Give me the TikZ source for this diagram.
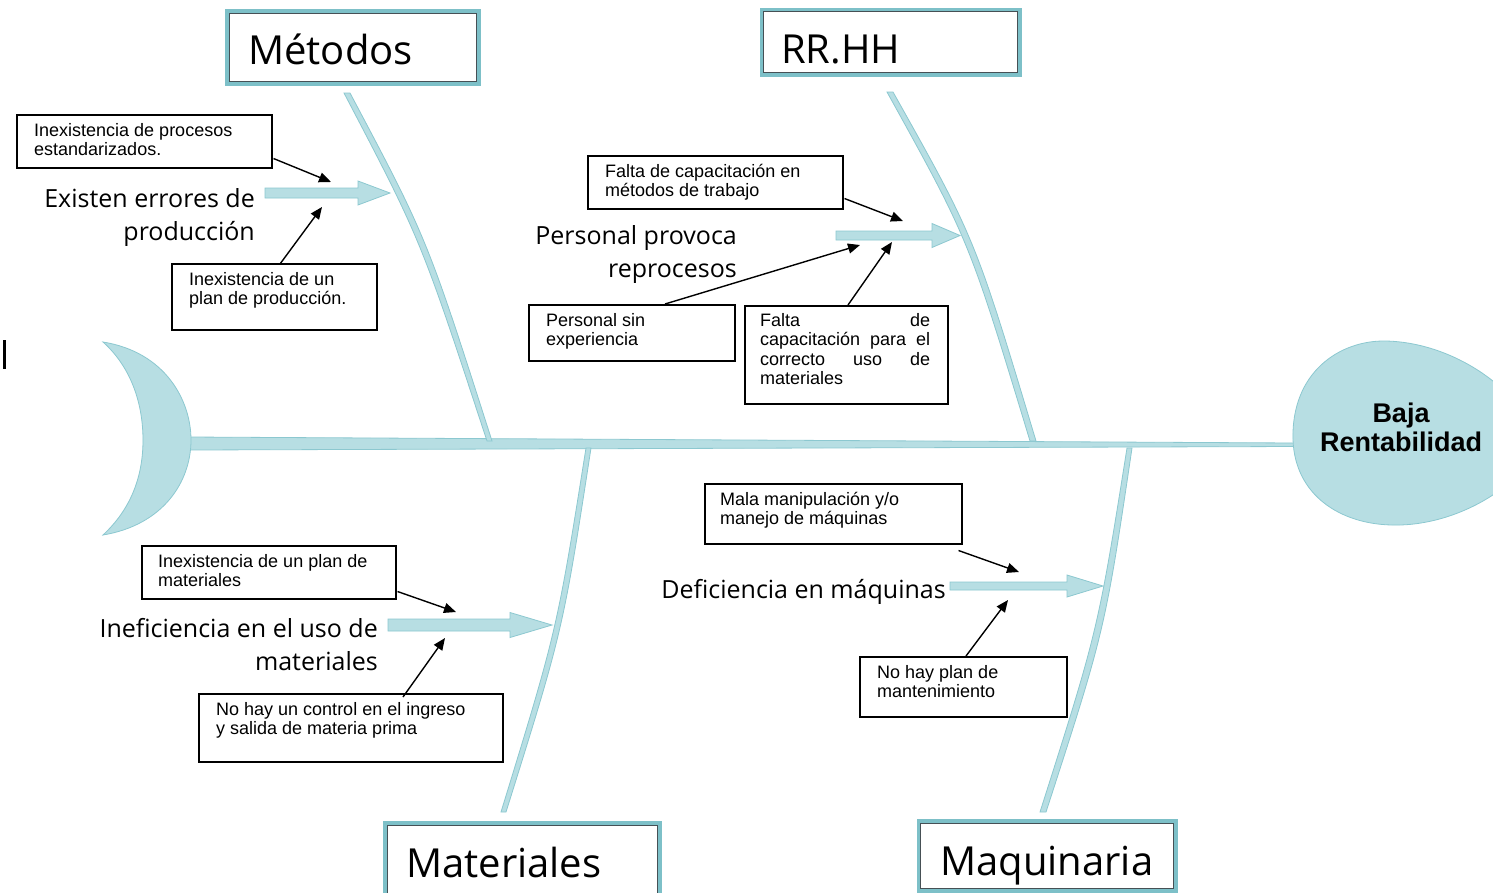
\documentclass[tikz,border=0pt]{standalone}
\usepackage{fontspec}
\setmainfont{Liberation Sans}
\newfontfamily\comicfont{Open Sans}
\usetikzlibrary{arrows.meta,calc}
\definecolor{fishfill}{RGB}{183,222,227}
\definecolor{fishline}{RGB}{140,200,208}
\definecolor{catteal}{RGB}{125,192,200}
\definecolor{catdark}{RGB}{70,80,85}
\newcommand\barrow[6]{%
  \path[fish] (#1,#4-#5) -- (#2,#4-#5) -- (#2,#4-#6) -- (#3,#4) -- (#2,#4+#6) -- (#2,#4+#5) -- (#1,#4+#5) -- cycle;}
\newcommand\causebox[7]{%
  \node[cbox,minimum width=#4pt,minimum height=#5pt] (#1) at (#2,#3) {};
  \node[ctext] (#1t) at ($(#1.north west)+(#6,0)$) {\rule{0pt}{22pt}#7};}
\begin{document}
\begin{tikzpicture}[x=1pt,y=-1pt,
  fish/.style={fill=fishfill,draw=fishline,line width=0.8pt},
  cbox/.style={draw=black,line width=1.5pt,fill=white,anchor=north west,inner sep=0pt},
  ctext/.style={anchor=north west,inner sep=0pt,align=left,font=\fontsize{18}{19.5}\selectfont},
  catbox/.style={draw=catdark,line width=1.3pt,fill=white,anchor=north west,inner sep=0pt},
  cattext/.style={anchor=base west,inner sep=0pt,font=\comicfont\fontsize{40}{44}\selectfont},
  lbl/.style={anchor=north east,inner sep=0pt,align=right,font=\comicfont\fontsize{25}{33}\selectfont},
  carrow/.style={draw=black,line width=1.4pt,-{Triangle[length=12pt,width=10pt]}}]
\fill[white] (0,0) rectangle (1493,892);
\useasboundingbox (0,0) rectangle (1493,892);
\clip (0,0) rectangle (1493,892);

% spine
\path[fish] (188,437) -- (1295,443) -- (1295,446.5) -- (188,450) -- cycle;
% bones
\path[fish] (344,93) .. controls (421,240) .. (487,441) -- (492,441) .. controls (427,238) .. (350,93) -- cycle;
\path[fish] (887,92) .. controls (969,240) .. (1030,441) -- (1036,441) .. controls (975,238) .. (893,92) -- cycle;
\path[fish] (586,448) .. controls (557,630) .. (501,812) -- (506,812) .. controls (563,630) .. (591,448) -- cycle;
\path[fish] (1127,448) .. controls (1098,630) .. (1040,812) -- (1046,812) .. controls (1105,630) .. (1132,448) -- cycle;
% tail
\path[fish] (103,342) .. controls (165,352) and (191,400) .. (191,440) .. controls (191,482) and (163,525) .. (103,535)
  .. controls (132,508) and (143,475) .. (143,440) .. controls (143,405) and (132,368) .. (103,342) -- cycle;
% head
\path[fish] (1293,440) .. controls (1291,372) and (1340,340) .. (1386,341) .. controls (1430,342) and (1472,362) .. (1500,387)
  -- (1500,490) .. controls (1470,512) and (1430,526) .. (1392,525) .. controls (1340,524) and (1295,495) .. (1293,440) -- cycle;
\node[font=\bfseries\fontsize{27}{29}\selectfont,align=center,inner sep=0pt] (headtext) at (1401,427) {Baja\\Rentabilidad};

% block arrows
\barrow{265}{358}{390}{193}{5}{12}
\barrow{836}{932}{960}{235.5}{4.5}{12}
\barrow{388}{510}{552}{625}{6}{12.5}
\barrow{950}{1067}{1103}{586}{4}{11}

% category boxes
\fill[catteal] (225,9) rectangle (481,86);
\node[catbox,minimum width=247pt,minimum height=68pt] (metodos) at (229,13) {};
\node[cattext] (metodost) at (248,64) {Métodos};
\fill[catteal] (760,8) rectangle (1022,77);
\node[catbox,minimum width=254pt,minimum height=61pt] (rrhh) at (763,11) {};
\node[cattext] (rrhht) at (781,63) {RR.HH};
\fill[catteal] (383,821) rectangle (662,905);
\node[catbox,minimum width=270pt,minimum height=75pt] (materiales) at (387,825) {};
\node[cattext] (materialest) at (406,877) {Materiales};
\fill[catteal] (917,819) rectangle (1178,893);
\node[catbox,minimum width=253pt,minimum height=65pt] (maquinaria) at (920,823) {};
\node[cattext] (maquinariat) at (940,875) {Maquinaria};

% labels
\node[lbl] (l1) at (255,183) {\rule{0pt}{24pt}Existen errores de\\producción};
\node[lbl] (l2) at (737,220) {\rule{0pt}{24pt}Personal provoca\\reprocesos};
\node[lbl] (l3) at (378,613) {\rule{0pt}{24pt}Ineficiencia en el uso de\\materiales};
\node[lbl] (l4) at (946,574) {\rule{0pt}{24pt}Deficiencia en máquinas};

% cause boxes
\causebox{b1}{16}{114}{255}{53}{18}{Inexistencia de procesos\\estandarizados.}
\causebox{b2}{171}{263}{205}{66}{18}{Inexistencia de un\\plan de producción.}
\causebox{b3}{587}{155}{255}{53}{18}{Falta de capacitación en\\métodos de trabajo}
\causebox{b4}{528}{304}{206}{56}{18}{Personal sin\\experiencia}
\node[cbox,minimum width=203pt,minimum height=98pt] (b5) at (744,305) {};
\node[ctext,text width=170pt,align=justify] (b5t) at ($(b5.north west)+(16,0)$)
  {\rule{0pt}{21pt}Falta\hfill de\\capacitación\hfill para\hfill el\\correcto\hfill uso\hfill de\\materiales};
\causebox{b6}{704}{483}{257}{60}{16}{Mala manipulación y/o\\manejo de máquinas}
\causebox{b7}{859}{656}{207}{60}{18}{No hay plan de\\mantenimiento}
\causebox{b8}{141}{545}{254}{53}{17}{Inexistencia de un plan de\\materiales}
\causebox{b9}{198}{693}{304}{68}{18}{No hay un control en el ingreso\\y salida de materia prima}

% arrow tips
\coordinate (t1) at (331,182);
\coordinate (t2) at (322,207);
\coordinate (t3) at (903,221);
\coordinate (t4) at (860,245);
\coordinate (t5) at (892,242);
\coordinate (t6) at (1019,572);
\coordinate (t7) at (1008,600);
\coordinate (t8) at (456,612);
\coordinate (t9) at (445,638);
\draw[carrow] ($(b1.south east)+(1,-10)$) -- (t1);
\draw[carrow] ($(b2.north west)+(109,1)$) -- (t2);
\draw[carrow] ($(b3.south east)+(1,-11)$) -- (t3);
\draw[carrow] ($(b4.north west)+(137,0)$) -- (t4);
\draw[carrow] ($(b5.north west)+(104,0)$) -- (t5);
\draw[carrow] ($(b6.south east)+(-4,6)$) -- (t6);
\draw[carrow] ($(b7.north west)+(107,0)$) -- (t7);
\draw[carrow] ($(b8.south east)+(1,-8)$) -- (t8);
\draw[carrow] ($(b9.north west)+(205,4)$) -- (t9);

% stray mark at left edge
\fill[black] (3,340) rectangle (5.5,369);
\end{tikzpicture}
\end{document}
